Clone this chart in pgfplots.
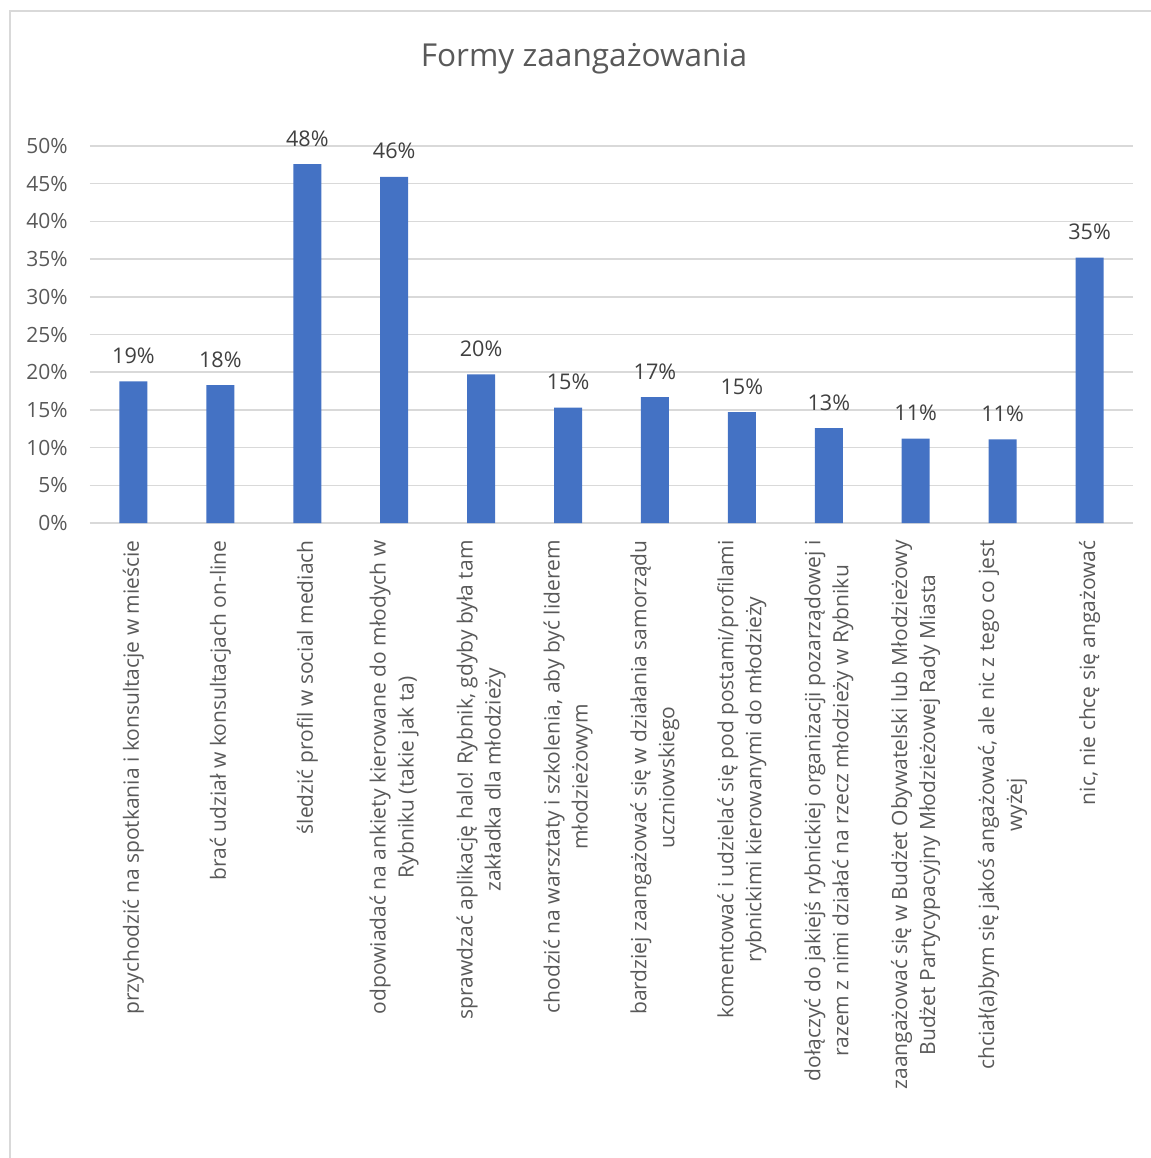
\documentclass[border=0pt]{standalone}
\usepackage{pgfplots}
\pgfplotsset{compat=1.18}
\usepackage{fontspec}
\setmainfont{Open Sans}
\definecolor{barblue}{HTML}{4472C4}
\definecolor{gridgray}{HTML}{D9D9D9}
\definecolor{ticktext}{HTML}{595959}
\definecolor{labeltext}{HTML}{404040}
\begin{document}
\begin{tikzpicture}
\useasboundingbox (-45pt,-317.5pt) rectangle (530.5pt,261.5pt);
\draw[gridgray, line width=0.75pt] (-40pt,-317.5pt) -- (-40pt,256pt) -- (530.5pt,256pt);
\node[anchor=base, font=\fontsize{15.8}{20}\selectfont, text=ticktext, inner sep=0pt] at (247pt,228.5pt) {Formy zaangażowania};
\begin{axis}[
  at={(0pt,0pt)}, anchor=south west,
  scale only axis, width=521.5pt, height=188.5pt,
  xmin=-0.5, xmax=11.5, ymin=0, ymax=50,
  ybar, bar width=14pt,
  axis line style={draw=none},
  major tick length=0pt,
  ymajorgrids, grid style={gridgray, line width=0.75pt},
  ytick={0,5,...,50},
  yticklabels={0\%,5\%,10\%,15\%,20\%,25\%,30\%,35\%,40\%,45\%,50\%},
  yticklabel style={font=\fontsize{10.5}{14}\selectfont, text=ticktext, inner sep=0pt, xshift=-11pt},
  xtick={0,...,11},
  xticklabels={
    {przychodzić na spotkania i konsultacje w mieście},
    {brać udział w konsultacjach on-line},
    {śledzić profil w social mediach},
    {odpowiadać na ankiety kierowane do młodych w\\Rybniku (takie jak ta)},
    {sprawdzać aplikację halo! Rybnik, gdyby była tam\\zakładka dla młodzieży},
    {chodzić na warsztaty i szkolenia, aby być liderem\\młodzieżowym},
    {bardziej zaangażować się w działania samorządu\\uczniowskiego},
    {komentować i udzielać się pod postami/profilami\\rybnickimi kierowanymi do młodzieży},
    {dołączyć do jakiejś rybnickiej organizacji pozarządowej i\\razem z nimi działać na rzecz młodzieży w Rybniku},
    {zaangażować się w Budżet Obywatelski lub Młodzieżowy\\Budżet Partycypacyjny Młodzieżowej Rady Miasta},
    {chciał(a)bym się jakoś angażować, ale nic z tego co jest\\wyżej},
    {nic, nie chcę się angażować}},
  xticklabel style={font=\fontsize{10.5}{14}\selectfont, text=ticktext, rotate=90, anchor=east, align=center, inner sep=0pt},
  xticklabel shift=8.5pt,
  point meta=explicit symbolic,
  nodes near coords,
  nodes near coords style={font=\fontsize{10.8}{14}\selectfont, text=labeltext, anchor=base, yshift=9pt, inner sep=0pt},
  clip=false,
]
\addplot[fill=barblue, draw=none] coordinates {
  (0,18.8) [19\%]
  (1,18.3) [18\%]
  (2,47.6) [48\%]
  (3,45.9) [46\%]
  (4,19.7) [20\%]
  (5,15.3) [15\%]
  (6,16.7) [17\%]
  (7,14.7) [15\%]
  (8,12.6) [13\%]
  (9,11.2) [11\%]
  (10,11.1) [11\%]
  (11,35.2) [35\%]
};
\end{axis}
\end{tikzpicture}
\end{document}
